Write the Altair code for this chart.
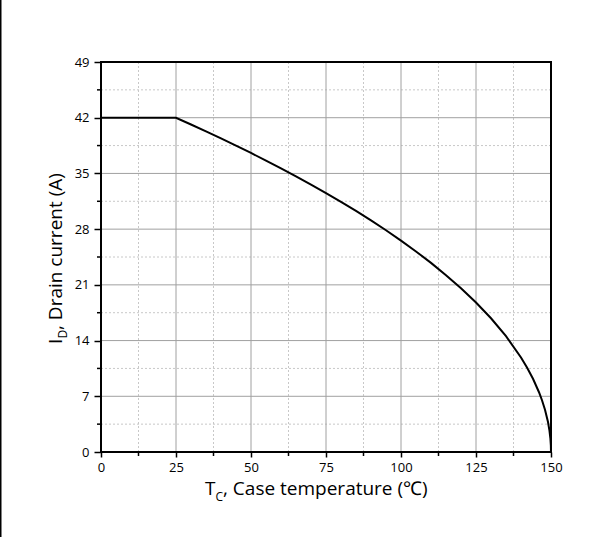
import altair as alt
import pandas as pd

# Curve
curve_T = [0, 25, 30, 35, 40, 45, 50, 55, 60, 65, 70, 75, 80, 85, 90, 95, 100,
           105, 110, 115, 120, 125, 130, 135, 140, 142, 144, 146, 147, 148, 149,
           149.5, 149.8, 149.95, 150]
curve_I = [42, 42, 41.15, 40.28, 39.4, 38.49, 37.57, 36.61, 35.64, 34.63, 33.6,
           32.53, 31.43, 30.29, 29.1, 27.86, 26.56, 25.2, 23.76, 22.22, 20.58,
           18.78, 16.8, 14.55, 11.88, 10.62, 9.2, 7.51, 6.5, 5.31, 3.76, 2.66,
           1.68, 0.84, 0]

x_major = [0, 25, 50, 75, 100, 125, 150]
y_major = [0, 7, 14, 21, 28, 35, 42, 49]
x_minor = [12.5, 37.5, 62.5, 87.5, 112.5, 137.5]
y_minor = [3.5, 10.5, 17.5, 24.5, 31.5, 38.5, 45.5]
x_grid = [25, 50, 75, 100, 125]
y_grid = [7, 14, 21, 28, 35, 42]

FONT = "Open Sans"
W, H = 450, 390

xs = alt.Scale(domain=[0, 150], nice=False, zero=False)
ys = alt.Scale(domain=[0, 49], nice=False, zero=False)

x_axis = alt.Axis(values=x_major, grid=False, domain=False, tickSize=5,
                  tickWidth=1.5, tickColor="black", labelFont=FONT,
                  labelFontSize=13, labelColor="black", labelPadding=4,
                  labelFlush=False)
y_axis = alt.Axis(values=y_major, grid=False, domain=False, tickSize=7,
                  tickWidth=1.5, tickColor="black", labelFont=FONT,
                  labelFontSize=13, labelColor="black", labelPadding=5,
                  labelFlush=False)

def X(f):
    return alt.X(f, scale=xs, axis=x_axis, title=None)

def Y(f):
    return alt.Y(f, scale=ys, axis=y_axis, title=None)

curve = pd.DataFrame({"T": curve_T, "I": curve_I})
one = pd.DataFrame({"a": [0]})

minor_vx = alt.Chart(pd.DataFrame({"T": x_minor})).mark_rule(
    color="#c8c8c8", strokeWidth=1, strokeDash=[2, 2]
).encode(x=X("T:Q"))
minor_hy = alt.Chart(pd.DataFrame({"I": y_minor})).mark_rule(
    color="#c8c8c8", strokeWidth=1, strokeDash=[2, 2]
).encode(y=Y("I:Q"))
major_vx = alt.Chart(pd.DataFrame({"T": x_grid})).mark_rule(
    color="#a0a0a0", strokeWidth=1
).encode(x=X("T:Q"))
major_hy = alt.Chart(pd.DataFrame({"I": y_grid})).mark_rule(
    color="#a0a0a0", strokeWidth=1
).encode(y=Y("I:Q"))

line = alt.Chart(curve).mark_line(color="black", strokeWidth=2).encode(
    x=X("T:Q"), y=Y("I:Q")
)

minor_tx = alt.Chart(pd.DataFrame({"T": x_minor})).mark_rule(
    color="black", strokeWidth=1.5
).encode(x=X("T:Q"), y=alt.value(H), y2=alt.value(H + 4))
minor_ty = alt.Chart(pd.DataFrame({"I": y_minor})).mark_rule(
    color="black", strokeWidth=1.5
).encode(y=Y("I:Q"), x=alt.value(-4), x2=alt.value(0))

frame = alt.Chart(one).mark_rect(filled=False, stroke="black", strokeWidth=2).encode(
    x=alt.value(0), x2=alt.value(W), y=alt.value(0), y2=alt.value(H)
)
left_border = alt.Chart(one).mark_rule(color="black", strokeWidth=1.5).encode(
    x=alt.value(-100.25), y=alt.value(-62), y2=alt.value(475)
)

def txt(s, x, y, size, angle=0):
    return alt.Chart(one).mark_text(
        text=s, font=FONT, fontSize=size, color="black", align="left",
        baseline="alphabetic", angle=angle
    ).encode(x=alt.value(x), y=alt.value(y))

# x title: T_C, Case temperature (℃)
xt = [txt("T", 104, 433, 19), txt("C", 114.5, 439, 12),
      txt(", Case temperature (\u2103)", 122, 433, 19)]
# y title: I_D, Drain current (A)
yt = [txt("I", -39.5, 282, 19, 270), txt("D", -34.5, 276.5, 12, 270),
      txt(", Drain current (A)", -39.5, 268, 19, 270)]

chart = alt.layer(
    minor_vx, minor_hy, major_vx, major_hy, line, minor_tx, minor_ty, frame,
    left_border, *xt, *yt
).properties(
    width=W, height=H,
    autosize=alt.AutoSizeParams(type="none"),
    padding={"left": 101, "top": 62, "right": 52, "bottom": 92},
).configure_view(stroke=None).configure(background="white")

chart.save("out.html", embed_options={"renderer": "svg", "actions": False})
